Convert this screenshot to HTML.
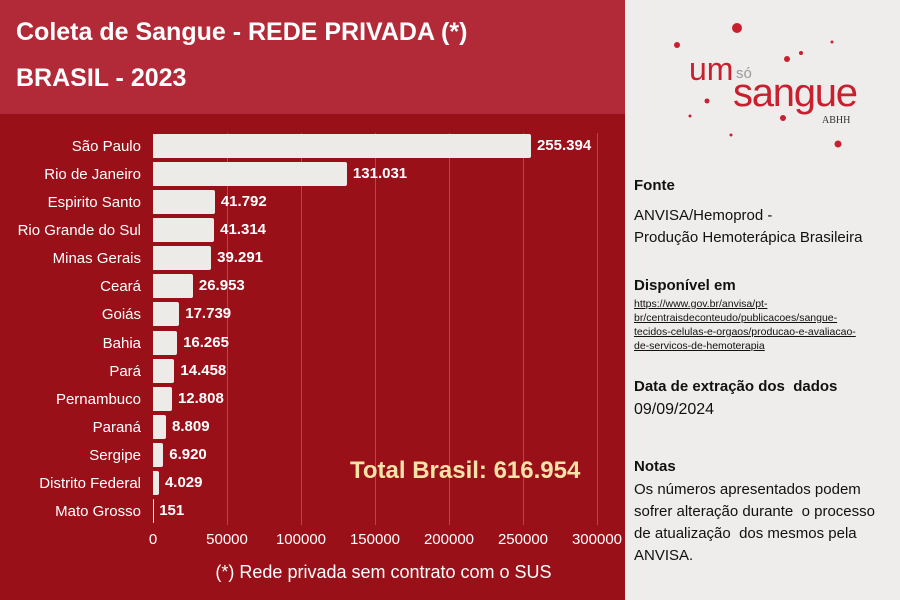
<!DOCTYPE html>
<html><head><meta charset="utf-8"><style>
body{margin:0;width:900px;height:600px;overflow:hidden;font-family:"Liberation Sans",sans-serif;position:relative;background:#9a1019}
.hdr{position:absolute;left:0;top:0;width:625px;height:114px;background:#b22a38;color:#fff;font-weight:bold;font-size:25px}
.side{position:absolute;left:625px;top:0;width:275px;height:600px;background:#efedeb;color:#111}
.lbl{position:absolute;right:759px;color:#fff;font-size:15px;text-align:right;white-space:nowrap}
.bar{position:absolute;left:153px;height:24px;background:#edebe8;border-radius:0 2px 2px 0}
.val{position:absolute;color:#fff;font-weight:bold;font-size:15px}
.grid{position:absolute;top:133px;height:392px;width:1px;background:#b3464e}
.tick{position:absolute;top:531px;color:#fff;font-size:15px;transform:translateX(-50%)}
.side h4{margin:0;font-size:15px;font-weight:bold;position:absolute;left:9px}
.side p{margin:0;position:absolute;left:9px;font-size:15px;line-height:22px}
</style></head><body>
<div class="hdr"><div style="position:absolute;left:16px;top:18px">Coleta de Sangue - REDE PRIVADA (*)</div><div style="position:absolute;left:16px;top:64px">BRASIL - 2023</div></div>
<div class="grid" style="left:227px"></div><div class="grid" style="left:301px"></div><div class="grid" style="left:375px"></div><div class="grid" style="left:449px"></div><div class="grid" style="left:523px"></div><div class="grid" style="left:597px"></div>
<div id="c"></div>
<script>
var d=[["São Paulo",255394,"255.394"],["Rio de Janeiro",131031,"131.031"],["Espirito Santo",41792,"41.792"],["Rio Grande do Sul",41314,"41.314"],["Minas Gerais",39291,"39.291"],["Ceará",26953,"26.953"],["Goiás",17739,"17.739"],["Bahia",16265,"16.265"],["Pará",14458,"14.458"],["Pernambuco",12808,"12.808"],["Paraná",8809,"8.809"],["Sergipe",6920,"6.920"],["Distrito Federal",4029,"4.029"],["Mato Grosso",151,"151"]];
var h="";d.forEach(function(r,i){var cy=146+i*28.08,w=r[1]*444/300000;
h+='<div class="lbl" style="top:'+(cy-8)+'px">'+r[0]+'</div><div class="bar" style="top:'+(cy-12)+'px;width:'+Math.max(w,1)+'px"></div><div class="val" style="top:'+(cy-9)+'px;left:'+(153+w+6)+'px">'+r[2]+'</div>';});
[0,50000,100000,150000,200000,250000,300000].forEach(function(t){h+='<div class="tick" style="left:'+(153+t*444/300000)+'px">'+t+'</div>';});
document.getElementById("c").innerHTML=h;
</script>
<div style="position:absolute;left:350px;top:457px;color:#f6e3a8;font-weight:bold;font-size:24px">Total Brasil: 616.954</div>
<div style="position:absolute;left:0;width:767px;top:562px;text-align:center;color:#fff;font-size:18px">(*) Rede privada sem contrato com o SUS</div>
<div class="side">
<svg width="275" height="160" style="position:absolute;left:0;top:0">
<g fill="#c8202e"><circle cx="112" cy="28" r="5"/><circle cx="52" cy="45" r="3"/><circle cx="162" cy="59" r="3"/><circle cx="176" cy="53" r="2"/><circle cx="207" cy="42" r="1.5"/><circle cx="82" cy="101" r="2.5"/><circle cx="65" cy="116" r="1.5"/><circle cx="158" cy="118" r="3"/><circle cx="106" cy="135" r="1.5"/><circle cx="213" cy="144" r="3.5"/></g>
<text x="64" y="80" font-family="Liberation Sans,sans-serif" font-size="32" fill="#c8202e">um</text>
<text x="111" y="78" font-family="Liberation Sans,sans-serif" font-size="15" fill="#999">só</text>
<text x="108" y="106" font-family="Liberation Sans,sans-serif" font-size="40" fill="#c8202e" textLength="125">sangue</text>
<text x="197" y="123" font-family="Liberation Serif,serif" font-size="10" fill="#333">ABHH</text>
</svg>
<h4 style="top:177px">Fonte</h4>
<p style="top:205px">ANVISA/Hemoprod -<br>Produção Hemoterápica Brasileira</p>
<h4 style="top:277px">Disponível em</h4>
<p style="top:297px;font-size:10.5px;line-height:14px;text-decoration:underline">https://www.gov.br/anvisa/pt-<br>br/centraisdeconteudo/publicacoes/sangue-<br>tecidos-celulas-e-orgaos/producao-e-avaliacao-<br>de-servicos-de-hemoterapia</p>
<h4 style="top:378px">Data de extração dos&nbsp; dados</h4>
<p style="top:399px;font-size:16px">09/09/2024</p>
<h4 style="top:458px">Notas</h4>
<p style="top:479px">Os números apresentados podem<br>sofrer alteração durante&nbsp; o processo<br>de atualização&nbsp; dos mesmos pela<br>ANVISA.</p>
</div>
</body></html>
